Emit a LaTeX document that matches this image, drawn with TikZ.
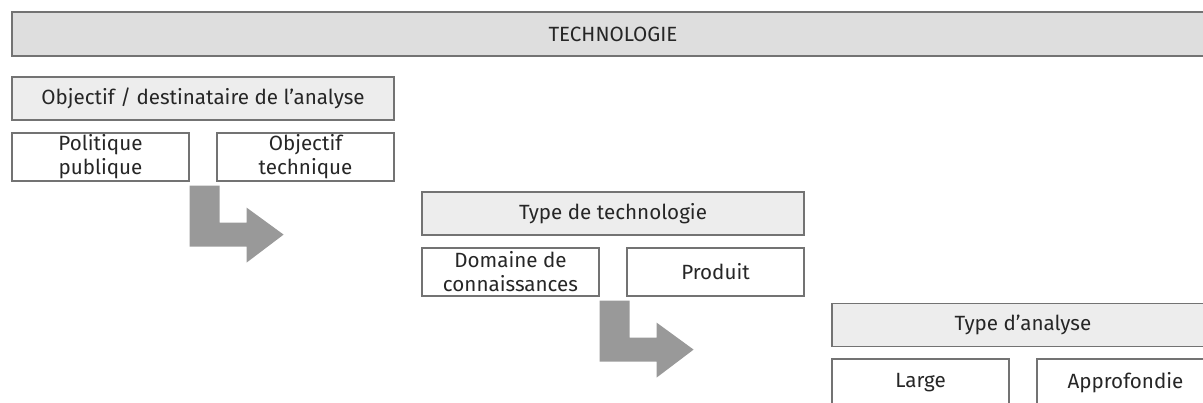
\documentclass[tikz,border=0pt]{standalone}
\usepackage{fontspec}
\setmainfont{Fira Sans}

\begin{document}
\begin{tikzpicture}
      [x=1pt,y=-1pt,
       every node/.style={draw=black!55,line width=1.2pt,text=black!85,
         font=\fontsize{20.6}{24}\selectfont,align=center,inner sep=0pt},
       bar/.style={fill=black!13,minimum width=1202pt,minimum height=44pt},
       head/.style={fill=black!7,minimum width=382pt,minimum height=43pt},
       item/.style={fill=white,minimum width=177pt,minimum height=48pt}]
      \useasboundingbox (0,0) rectangle (1203,403);

      \node [bar] (tech) at (613,34) {TECHNOLOGIE};

      \node [head] (obj) at (203,98.5) {Objectif / destinataire de l’analyse};
      \node [item] (pol) at (100.5,157) {Politique\\publique};
      \node [item] (objtech) at (305.5,157) {Objectif\\technique};

      \node [head] (type) at (613,213.5) {Type de technologie};
      \node [item] (dom) at (510.5,272) {Domaine de\\connaissances};
      \node [item] (prod) at (715.5,272) {Produit};

      \node [head] (ana) at (1023,325) {Type d’analyse};
      \node [item] (large) at (920.5,383) {Large};
      \node [item] (appro) at (1125.5,383) {Approfondie};

      \foreach \from in {pol, dom}
      \fill [black!40] ([shift={(0,4)}]\from.south east) -- ++(30,0) -- ++(0,37)
        -- ++(27,0) -- ++(0,-15) -- ++(37,27) -- ++(-37,28) -- ++(0,-16)
        -- ++(-57,0) -- cycle;
    \end{tikzpicture}
\end{document}
